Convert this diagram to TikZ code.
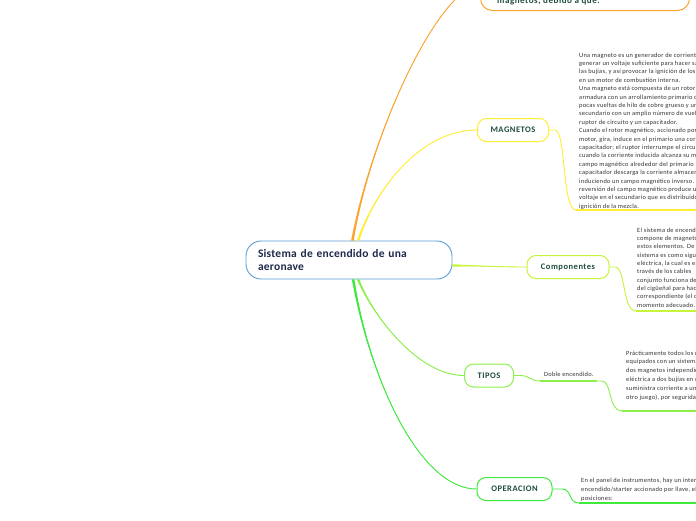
\documentclass[tikz,border=0pt]{standalone}
\usepackage{fontspec}
\setmainfont{Carlito}
\newfontfamily\bodyfont[LetterSpace=4]{Carlito}
\newfontfamily\labelfont[LetterSpace=6]{Carlito}
\newfontfamily\rootfont[LetterSpace=2]{Carlito}
\definecolor{orangec}{HTML}{FBA432}
\definecolor{yellowc}{HTML}{FFEE33}
\definecolor{compc}{HTML}{C6F53C}
\definecolor{tipc}{HTML}{8CF04A}
\definecolor{operc}{HTML}{3EEA3E}
\definecolor{rootc}{HTML}{5B9BD5}
\definecolor{roott}{HTML}{1F2A4A}
\definecolor{labelc}{HTML}{1E4D40}
\definecolor{bodyc}{HTML}{333333}
\begin{document}
\begin{tikzpicture}[x=1pt,y=-1pt,
  topic/.style={draw, rounded corners=9pt, line width=1pt, fill=white, minimum height=23pt, inner sep=0pt, font=\labelfont\bfseries\fontsize{8.5}{10}\selectfont, text=labelc},
  body/.style={anchor=north west, align=left, inner sep=0pt, font=\bodyfont\fontsize{6.4}{8.4}\selectfont, text=bodyc},
  conn/.style={line width=0.9pt},
  under/.style={line width=1.6pt}]
\useasboundingbox (0,0) rectangle (696,520);
\fill[white] (0,0) rectangle (696,520);

% nodes
\node[draw=rootc, line width=0.9pt, rounded corners=15pt, minimum width=206pt, minimum height=38pt, text width=182pt, align=left, inner xsep=12pt, inner ysep=0pt, font=\rootfont\bfseries\fontsize{11.5}{13}\selectfont, text=roott] (root) at (349,260) {Sistema de encendido de una\\aeronave};
\node[topic, draw=orangec, minimum width=209pt, minimum height=50pt, rounded corners=12pt, anchor=south west] (top) at (480,11) {};
\node[anchor=base west, inner sep=0pt, font=\labelfont\bfseries\fontsize{9}{10}\selectfont, text=labelc] (toptext) at (497,3) {magnetos, debido a que:};
\node[topic, draw=yellowc, minimum width=71pt] (mag) at (513,130) {MAGNETOS};
\node[topic, draw=compc, minimum width=82pt] (comp) at (568,267) {Componentes};
\node[topic, draw=tipc, minimum width=49pt] (tip) at (489,375.5) {TIPOS};
\node[topic, draw=operc, minimum width=75pt] (oper) at (514.5,489) {OPERACION};
\node[anchor=base west, inner sep=0pt, font=\bodyfont\fontsize{6.4}{8}\selectfont, text=bodyc] (doble) at (544,376) {Doble encendido.};

\coordinate (magend) at (700,210);
\coordinate (compend) at (700,311);
\coordinate (dobend) at (700,411);
\coordinate (operend) at (700,503);

% main connectors (tapered)
\fill[orangec] ([xshift=-1.3pt]root.80) .. controls (372,130) and (440,-14) .. (top.west) .. controls (440,-14) and (372,130) .. ([xshift=1.3pt]root.80) -- cycle;
\draw[conn, orangec] (root.80) .. controls (372,130) and (440,-14) .. (top.west);
\fill[yellowc] ([xshift=-1.3pt]root.65) .. controls (375,190) and (420,130) .. (mag.west) .. controls (420,130) and (375,190) .. ([xshift=1.3pt]root.65) -- cycle;
\draw[conn, yellowc] (root.65) .. controls (375,190) and (420,130) .. (mag.west);
\fill[compc] ([yshift=1.2pt]root.-3) .. controls (490,266) and (500,267) .. (comp.west) .. controls (500,267) and (490,266) .. ([yshift=-1.2pt]root.-3) -- cycle;
\draw[conn, compc] (root.-3) .. controls (490,266) and (500,267) .. (comp.west);
\fill[tipc] ([xshift=-1.3pt]root.-65) .. controls (375,320) and (420,375.5) .. (tip.west) .. controls (420,375.5) and (375,320) .. ([xshift=1.3pt]root.-65) -- cycle;
\draw[conn, tipc] (root.-65) .. controls (375,320) and (420,375.5) .. (tip.west);
\fill[operc] ([xshift=-1.3pt]root.-78) .. controls (370,380) and (420,489) .. (oper.west) .. controls (420,489) and (370,380) .. ([xshift=1.3pt]root.-78) -- cycle;
\draw[conn, operc] (root.-78) .. controls (370,380) and (420,489) .. (oper.west);

% side connectors
\draw[conn, yellowc] (mag.east) -- (555,130) .. controls (566,130) and (562,210) .. (576,210) -- (magend);
\draw[under, yellowc] (576,210) -- (magend);
\draw[conn, compc] (comp.east) -- (615,267) .. controls (626,267) and (622,311) .. (636,311) -- (compend);
\draw[under, compc] (636,311) -- (compend);
\draw[conn, tipc] (tip.east) -- (520,375.5) .. controls (530,375.5) and (530,381) .. (540,381) -- (doble.south east |- 0,381) -- (602,381) .. controls (612,381) and (608,411) .. (622,411) -- (dobend);
\draw[under, tipc] (540,381) -- (597,381);
\draw[under, tipc] (622,411) -- (dobend);
\draw[conn, operc] (oper.east) -- (562,489) .. controls (572,489) and (568,503) .. (579,503) -- (operend);
\draw[under, operc] (579,503) -- (operend);

% body texts
\node[body] (magtext) at (579,52.5) {Una magneto es un generador de corriente\\
generar un voltaje suficiente para hacer saltar\\
las bujías, y así provocar la ignición de los\\
en un motor de combustión interna.\\
Una magneto está compuesta de un rotor\\
armadura con un arrollamiento primario de\\
pocas vueltas de hilo de cobre grueso y un\\
secundario con un amplio número de vueltas\\
ruptor de circuito y un capacitador.\\
Cuando el rotor magnético, accionado por\\
motor, gira, induce en el primario una corriente\\
capacitador; el ruptor interrumpe el circuito\\
cuando la corriente inducida alcanza su máximo\\
campo magnético alrededor del primario\\
capacitador descarga la corriente almacenada\\
induciendo un campo magnético inverso. La\\
reversión del campo magnético produce un\\
voltaje en el secundario que es distribuido\\
ignición de la mezcla.};
\node[body, font=\bodyfont\fontsize{6.4}{8.33}\selectfont] (comptext) at (637,227.5) {El sistema de encendido\\
compone de magnetos\\
estos elementos. De\\
sistema es como sigue\\
eléctrica, la cual es enviada\\
través de los cables\\
conjunto funciona de\\
del cigüeñal para hacer\\
correspondiente (el cilindro\\
momento adecuado.};
\node[body, font=\bodyfont\fontsize{6.4}{8.8}\selectfont] (tiptext) at (626,350.5) {Prácticamente todos los motores\\
equipados con un sistema\\
dos magnetos independientes\\
eléctrica a dos bujías en cada\\
suministra corriente a un\\
otro juego), por seguridad};
\node[body, font=\bodyfont\fontsize{6.4}{9.1}\selectfont] (opertext) at (581,477.5) {En el panel de instrumentos, hay un interruptor\\
encendido/starter accionado por llave, el\\
posiciones:};
\end{tikzpicture}
\end{document}
